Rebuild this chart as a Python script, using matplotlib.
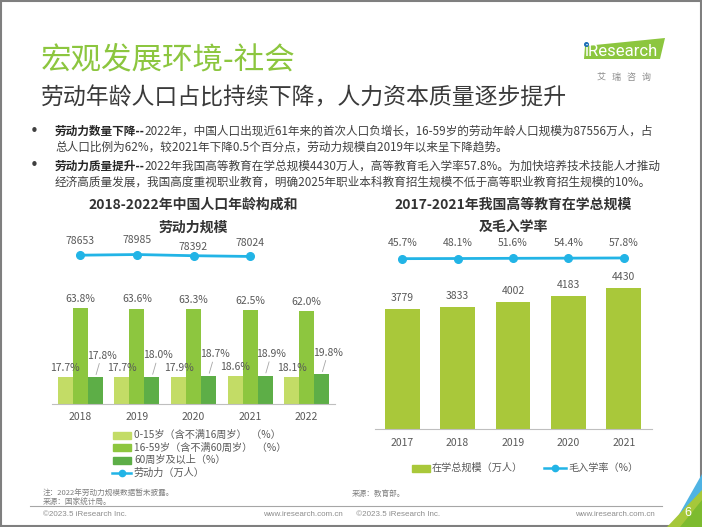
import matplotlib
matplotlib.use('Agg')
import matplotlib.pyplot as plt
from matplotlib.patches import Rectangle, Polygon, Circle
from matplotlib.lines import Line2D
import numpy as np

plt.rcParams['font.family'] = ['Noto Sans CJK SC', 'DejaVu Sans']

# left chart: population structure (%) and labour force (10k people)
years_pop = ['2018', '2019', '2020', '2021', '2022']
share_0_15 = [17.7, 17.7, 17.9, 18.6, 18.1]
share_16_59 = [63.8, 63.6, 63.3, 62.5, 62.0]
share_60 = [17.8, 18.0, 18.7, 18.9, 19.8]
labor_force = [78653, 78985, 78392, 78024]   # 2018-2021, 2022 not published

# right chart: higher education enrolment (10k) and gross enrolment rate (%)
years_edu = ['2017', '2018', '2019', '2020', '2021']
enrol_total = [3779, 3833, 4002, 4183, 4430]
enrol_rate = [45.7, 48.1, 51.6, 54.4, 57.8]

pop_legend = ['0-15岁（含不满16周岁）  （%）', '16-59岁（含不满60周岁）  （%）',
              '60周岁及以上（%）', '劳动力（万人）']
edu_legend = ['在学总规模（万人）', '毛入学率（%）']

c_young = '#c3dc66'
c_work = '#8dc63f'
c_old = '#5dae47'
c_edu = '#a9c83a'
c_line = '#22b4e6'
c_txt = '#595959'
c_axis = '#bfbfbf'

W, H = 702, 527
fig = plt.figure(figsize=(W / 100, H / 100), dpi=100)
fig.patch.set_facecolor('white')


def box(x0, y0, x1, y1):
    return fig.add_axes([x0 / W, 1 - y1 / H, (x1 - x0) / W, (y1 - y0) / H])


def clean(ax, keep_bottom=True):
    for s in ['top', 'right', 'left']:
        ax.spines[s].set_visible(False)
    ax.spines['bottom'].set_visible(keep_bottom)
    ax.spines['bottom'].set_color(c_axis)
    ax.set_yticks([])
    ax.patch.set_alpha(0)


# ---------------- left chart ----------------
ax1 = box(52, 235, 335, 404)
x = np.arange(len(years_pop))
bw = 0.265
ax1.bar(x - bw, share_0_15, bw, color=c_young)
ax1.bar(x, share_16_59, bw, color=c_work)
ax1.bar(x + bw, share_60, bw, color=c_old)
ax1.set_xlim(-0.5, 4.5)
ax1.set_ylim(0, 112.7)
clean(ax1)
ax1.set_xticks(x)
ax1.set_xticklabels(years_pop)
ax1.tick_params(length=0, labelsize=7.5, colors=c_txt, pad=6)
for i in range(len(x)):
    ax1.annotate(f'{share_0_15[i]}%', (x[i] - bw, share_0_15[i]), xytext=(0, 3),
                 textcoords='offset points', ha='center', va='bottom', fontsize=7.5, color=c_txt)
    ax1.annotate(f'{share_16_59[i]}%', (x[i], share_16_59[i]), xytext=(0, 3),
                 textcoords='offset points', ha='center', va='bottom', fontsize=7.5, color=c_txt)
    ax1.annotate(f'{share_60[i]}%', (x[i] + bw, share_60[i]), xytext=(4.5, 12),
                 textcoords='offset points', ha='center', va='bottom', fontsize=7.5, color=c_txt,
                 arrowprops=dict(arrowstyle='-', color='#a6a6a6', lw=0.6, shrinkA=0, shrinkB=2))

ax1b = ax1.twinx()
ax1b.set_ylim(4250, 88750)
clean(ax1b, keep_bottom=False)
xl = x[:len(labor_force)]
ax1b.plot(xl, labor_force, color=c_line, lw=2, marker='o', ms=5.5)
lab_off = [10.5, 10.5, 6.5, 10]
for i, v in enumerate(labor_force):
    ax1b.annotate(str(v), (xl[i], v), xytext=(0, lab_off[i]), textcoords='offset points',
                  ha='center', va='center', fontsize=7.5, color=c_txt)

# ---------------- right chart ----------------
ax2 = box(374.5, 235, 651.5, 429)
x2 = np.arange(len(years_edu))
ax2.bar(x2, enrol_total, 0.63, color=c_edu)
ax2.set_xlim(-0.5, 4.5)
ax2.set_ylim(0, 6100)
clean(ax2)
ax2.set_xticks(x2)
ax2.set_xticklabels(years_edu)
ax2.tick_params(length=0, labelsize=7.5, colors=c_txt, pad=6.5)
for i, v in enumerate(enrol_total):
    ax2.annotate(str(v), (x2[i], v), xytext=(0, 8), textcoords='offset points',
                 ha='center', va='center', fontsize=7.5, color=c_txt)

ax2b = ax2.twinx()
ax2b.set_ylim(-2901, 455)
clean(ax2b, keep_bottom=False)
ax2b.plot(x2, enrol_rate, color=c_line, lw=2, marker='o', ms=5.5)
for i, v in enumerate(enrol_rate):
    ax2b.annotate(f'{v}%', (x2[i], v), xytext=(0, 11), textcoords='offset points',
                  ha='center', va='center', fontsize=7.5, color=c_txt)

# ---------------- overlay (page text, legends, decorations) ----------------
ov = fig.add_axes([0, 0, 1, 1], zorder=10)
ov.set_xlim(0, W)
ov.set_ylim(H, 0)
ov.axis('off')

ov.add_patch(Rectangle((0.8, 0.8), W - 1.6, H - 1.6, fill=False, ec='#7f7f7f', lw=1.5))

ov.text(41, 60, '宏观发展环境-社会', fontsize=22, color='#8cc63f', va='center', ha='left')
ov.text(41, 98, '劳动年龄人口占比持续下降，人力资本质量逐步提升', fontsize=16.5,
        color='#3a3a3a', va='center', ha='left')

# logo
ov.add_patch(Polygon([(584, 59), (585, 46), (665, 38), (660, 59)], closed=True,
                     fc='#8cc63f', ec='none'))
ov.text(585, 51, 'iResearch', fontsize=12, color='white', va='center', ha='left',
        family='Roboto')
ov.add_patch(Circle((586.5, 44.5), 1.8, color='#1c6fb8'))
ov.text(624, 77, '艾   瑞   咨   询', fontsize=6.5, color='#8c8c8c', va='center', ha='center')

# bullets
renderer = fig.canvas.get_renderer()
bullets = [
    ('劳动力数量下降--', '2022年，中国人口出现近61年来的首次人口负增长，16-59岁的劳动年龄人口规模为87556万人，占',
     '总人口比例为62%，较2021年下降0.5个百分点，劳动力规模自2019年以来呈下降趋势。', 131),
    ('劳动力质量提升--', '2022年我国高等教育在学总规模4430万人，高等教育毛入学率57.8%。为加快培养技术技能人才推动',
     '经济高质量发展，我国高度重视职业教育，明确2025年职业本科教育招生规模不低于高等职业教育招生规模的10%。', 166),
]
for head, rest, second, yy in bullets:
    ov.text(34, yy, '•', fontsize=11, color='#404040', va='center', ha='center',
            family='DejaVu Sans')
    t = ov.text(55, yy, head, fontsize=8.4, weight='bold', color='#262626', va='center')
    wpx = t.get_window_extent(renderer).width
    ov.text(55 + wpx, yy, rest, fontsize=8.4, color='#404040', va='center')
    ov.text(55, yy + 16, second, fontsize=8.4, color='#404040', va='center')

# chart titles
ov.text(193, 205, '2018-2022年中国人口年龄构成和', fontsize=10, weight='bold', color='#333333',
        ha='center', va='center')
ov.text(193, 228, '劳动力规模', fontsize=10, weight='bold', color='#333333', ha='center', va='center')
ov.text(513, 205, '2017-2021年我国高等教育在学总规模', fontsize=10, weight='bold', color='#333333',
        ha='center', va='center')
ov.text(513, 227, '及毛入学率', fontsize=10, weight='bold', color='#333333', ha='center', va='center')

# left legend
leg_y = [435, 447.5, 460, 473]
leg_cols = [c_young, c_work, c_old]
for i, lab in enumerate(pop_legend):
    if i < 3:
        ov.add_patch(Rectangle((113, leg_y[i] - 3.5), 18, 7, color=leg_cols[i]))
    else:
        ov.add_line(Line2D([112, 131], [leg_y[i], leg_y[i]], color=c_line, lw=1.8))
        ov.plot([121.5], [leg_y[i]], 'o', color=c_line, ms=4.5)
    ov.text(134, leg_y[i], lab, fontsize=7.3, color=c_txt, va='center')

# right legend
ov.add_patch(Rectangle((412, 464.5), 18, 7, color=c_edu))
ov.text(432, 468, edu_legend[0], fontsize=7.3, color=c_txt, va='center')
ov.add_line(Line2D([544, 566], [468, 468], color=c_line, lw=1.8))
ov.plot([555], [468], 'o', color=c_line, ms=4.5)
ov.text(568, 468, edu_legend[1], fontsize=7.3, color=c_txt, va='center')

# notes & footer
ov.text(43, 493, '注：2022年劳动力规模数据暂未披露。', fontsize=5.5, color='#7f7f7f', va='center')
ov.text(43, 503, '来源：国家统计局。', fontsize=5.5, color='#7f7f7f', va='center')
ov.text(352, 494, '来源：教育部。', fontsize=5.5, color='#7f7f7f', va='center')
ov.add_line(Line2D([30, 662], [506, 506], color='#a6a6a6', lw=0.8))
ov.text(43, 515, '©2023.5 iResearch Inc.', fontsize=5.8, color='#8c8c8c', va='center',
        family='Liberation Sans')
ov.text(352, 515, 'www.iresearch.com.cn      ©2023.5 iResearch Inc.', fontsize=5.8, color='#8c8c8c',
        va='center', ha='center', family='Liberation Sans')
ov.text(655, 515, 'www.iresearch.com.cn', fontsize=5.8, color='#8c8c8c', va='center', ha='right',
        family='Liberation Sans')

# corner decoration
ov.add_patch(Polygon([(672, 527), (702, 474), (702, 527)], closed=True, fc='#4fb3e3', ec='none'))
ov.add_patch(Polygon([(667, 527), (702, 490), (702, 527)], closed=True, fc='#a6c83a', ec='none'))
ov.add_patch(Polygon([(680, 527), (702, 500), (702, 527)], closed=True, fc='#7dbb2f', ec='none'))
ov.text(688, 513, '6', fontsize=9, color='white', ha='center', va='center', family='Liberation Sans')

fig.savefig('out.png', dpi=100)
